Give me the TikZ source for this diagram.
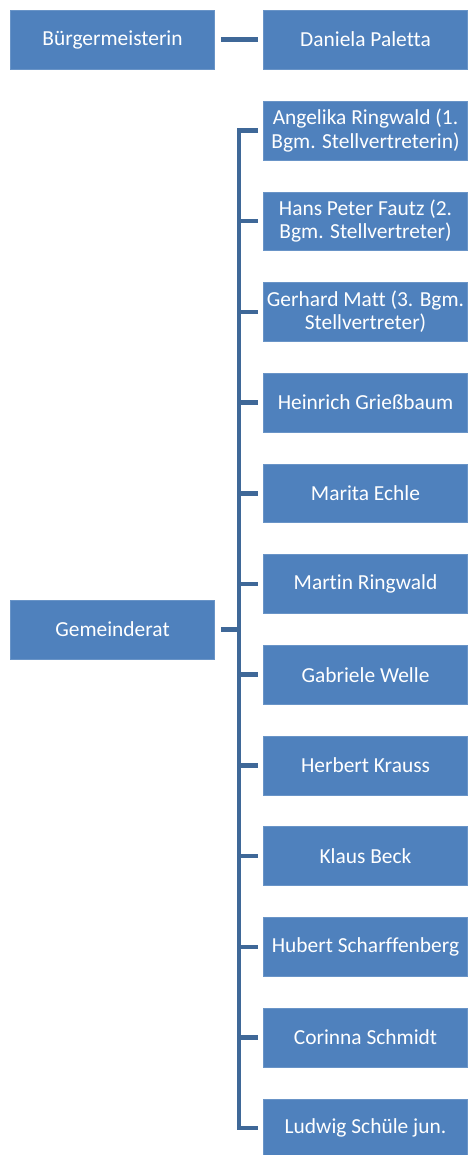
\documentclass[tikz,border=0pt]{standalone}
\usepackage{fontspec}
\setmainfont{Carlito}[Ligatures=NoCommon]
\definecolor{boxblue}{HTML}{4F81BD}
\definecolor{lineblue}{HTML}{3F6898}
\tikzset{
  orgbox/.style={fill=boxblue, draw=boxblue!85!white, line width=.6pt,
    minimum width=205, minimum height=59, inner sep=0pt, text=white,
    align=center, font=\fontsize{21.5}{23.5}\selectfont},
  conn/.style={draw=lineblue, line width=4.5, line join=miter}
}
\begin{document}
\begin{tikzpicture}[x=1bp, y=-1bp]
  \useasboundingbox (0,0) rectangle (470,1155);
  %% top row
  \node[orgbox] (bgm) at (112.5, 39.5) {Bürgermeisterin};
  \node[orgbox] (paletta) at (365.5, 39.5) {Daniela Paletta};
  \draw[conn] ([xshift=6]bgm.east) -- ([xshift=-5]paletta.west);

  %% council
  \node[orgbox] (rat) at (112.5, 629.5) {Gemeinderat};
  \coordinate (trunk) at (239, 629.5);

  \node[orgbox] (angelika) at (365.5, 130.5) {Angelika Ringwald (1.\\Bgm. Stellvertreterin)};
  \node[orgbox] (hans) at (365.5, 221.2) {Hans Peter Fautz (2.\\Bgm. Stellvertreter)};
  \node[orgbox] (gerhard) at (365.5, 311.9) {Gerhard Matt (3. Bgm.\\Stellvertreter)};
  \node[orgbox] (heinrich) at (365.5, 402.6) {Heinrich Grießbaum};
  \node[orgbox] (marita) at (365.5, 493.3) {Marita Echle};
  \node[orgbox] (martin) at (365.5, 584) {Martin Ringwald};
  \node[orgbox] (gabriele) at (365.5, 674.7) {Gabriele Welle};
  \node[orgbox] (herbert) at (365.5, 765.4) {Herbert Krauss};
  \node[orgbox] (klaus) at (365.5, 856.1) {Klaus Beck};
  \node[orgbox] (hubert) at (365.5, 946.8) {Hubert Scharffenberg};
  \node[orgbox] (corinna) at (365.5, 1037.5) {Corinna Schmidt};
  \node[orgbox] (ludwig) at (365.5, 1128.2) {Ludwig Schüle jun.};

  %% connectors
  \draw[conn] ([xshift=6]rat.east) -- (trunk);
  \draw[conn] ([xshift=-5]angelika.west) -| (trunk) |- ([xshift=-5]ludwig.west);
  \draw[conn] (trunk |- hans.west) -- ([xshift=-5]hans.west);
  \draw[conn] (trunk |- gerhard.west) -- ([xshift=-5]gerhard.west);
  \draw[conn] (trunk |- heinrich.west) -- ([xshift=-5]heinrich.west);
  \draw[conn] (trunk |- marita.west) -- ([xshift=-5]marita.west);
  \draw[conn] (trunk |- martin.west) -- ([xshift=-5]martin.west);
  \draw[conn] (trunk |- gabriele.west) -- ([xshift=-5]gabriele.west);
  \draw[conn] (trunk |- herbert.west) -- ([xshift=-5]herbert.west);
  \draw[conn] (trunk |- klaus.west) -- ([xshift=-5]klaus.west);
  \draw[conn] (trunk |- hubert.west) -- ([xshift=-5]hubert.west);
  \draw[conn] (trunk |- corinna.west) -- ([xshift=-5]corinna.west);
\end{tikzpicture}
\end{document}
